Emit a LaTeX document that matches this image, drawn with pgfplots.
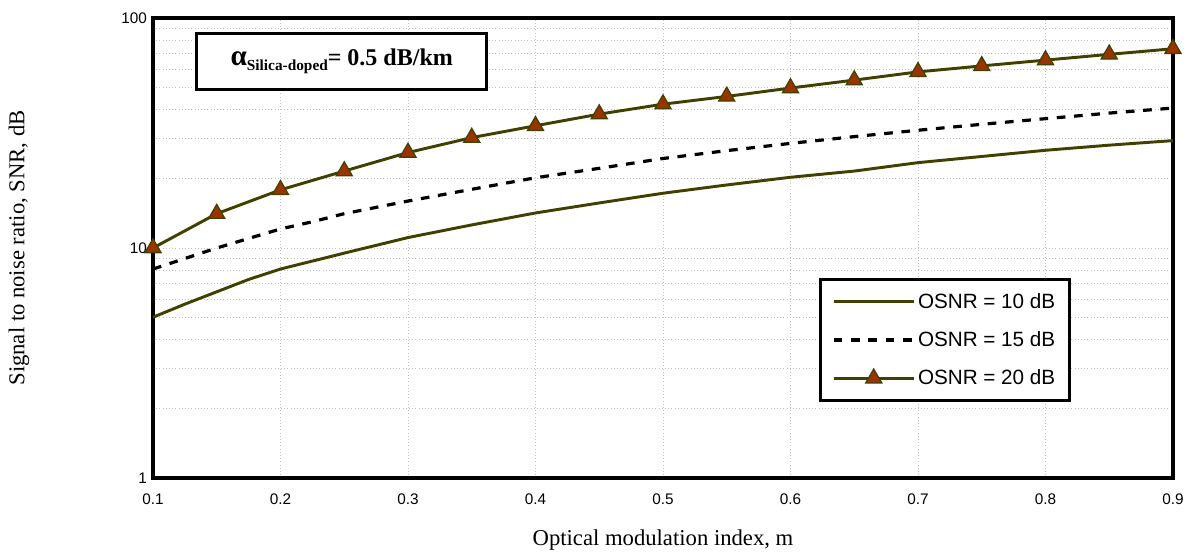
\documentclass[border=0pt]{standalone}
\usepackage{pgfplots}
\pgfplotsset{compat=1.18}
\usepackage{fontspec}
\setmainfont{Liberation Serif}
\newfontfamily\arial{Liberation Sans}
\definecolor{olive}{RGB}{64,64,0}
\definecolor{brick}{RGB}{153,51,0}
\begin{document}
\begin{tikzpicture}
\path[use as bounding box] (-114.75pt,-55.5pt) rectangle (775.5pt,358.5pt);
\begin{axis}[
  scale only axis, width=765pt, height=345pt,
  ymode=log, xmin=0.1, xmax=0.9, ymin=1, ymax=100,
  xtick={0.1,0.2,...,0.9},
  xticklabels={0.1,0.2,0.3,0.4,0.5,0.6,0.7,0.8,0.9},
  ytick={1,10,100}, yticklabels={1,10,100},
  minor ytick={2,3,4,5,6,7,8,9,20,30,40,50,60,70,80,90},
  grid=both,
  major grid style={gray!50, dotted, line width=0.7pt},
  minor grid style={gray!50, dotted, line width=0.7pt},
  major tick length=0pt, minor tick length=0pt,
  axis line style={line width=3.6pt, black},
  tick label style={font=\arial\fontsize{11.5}{13}\selectfont},
  xticklabel style={yshift=-8pt},
  yticklabel style={xshift=-1pt},
  /pgf/number format/assume math mode=true,
  xlabel={Optical modulation index, m},
  ylabel={Signal to noise ratio, SNR, dB},
  label style={font=\fontsize{17}{19}\selectfont},
  xlabel style={at={(axis description cs:0.5,-0.135)}, anchor=center},
  ylabel style={at={(axis description cs:-0.1315,0.5)}, anchor=center},
  clip=false,
  legend style={at={(0.7765,0.3)}, anchor=center, draw=black, line width=2.2pt,
    font=\arial\fontsize{15.5}{17}\selectfont, row sep=12pt,
    inner xsep=9pt, inner ysep=8pt,
    cells={anchor=west}},
  legend cell align=left,
  legend image code/.code={\draw[mark repeat=2,mark phase=2,#1] plot coordinates {(0pt,0pt) (30pt,0pt) (60pt,0pt)};},
]
\node[draw=black, line width=2.4pt, fill=white, minimum width=217.5pt, minimum height=42pt, inner sep=0pt]
  at (rel axis cs:0.185,0.905)
  {\fontsize{18}{20}\selectfont\bfseries{\fontsize{22}{22}\selectfont α}\raisebox{-0.45ex}{\fontsize{11.5}{12}\selectfont Silica-doped}= 0.5 dB/km};
\addplot[olive, line width=2.2pt] coordinates {
(0.1,5.0) (0.125,5.7) (0.15,6.45) (0.175,7.3) (0.2,8.1) (0.25,9.5) (0.3,11.1)
(0.35,12.6) (0.4,14.2) (0.45,15.7) (0.5,17.3) (0.55,18.8) (0.6,20.3) (0.65,21.6)
(0.7,23.5) (0.75,25.0) (0.8,26.6) (0.85,28.0) (0.9,29.3)};
\addlegendentry{OSNR = 10 dB}
\addplot[black, line width=2.4pt, dash pattern=on 6.5pt off 6.5pt] coordinates {
(0.1,8.1) (0.15,10.0) (0.2,12.1) (0.225,13.0) (0.25,14.1) (0.3,16.0) (0.35,18.0)
(0.4,20.2) (0.45,22.2) (0.5,24.5) (0.55,26.5) (0.6,28.5) (0.65,30.5) (0.7,32.5)
(0.75,34.5) (0.8,36.5) (0.85,38.6) (0.9,40.6)};
\addlegendentry{OSNR = 15 dB}
\addplot[olive, line width=2.2pt, mark=triangle*, mark size=7pt,
  mark options={solid, fill=brick, draw=olive, line width=0.9pt}] coordinates {
(0.1,10.0) (0.15,14.1) (0.2,17.9) (0.25,21.6) (0.3,26.0) (0.35,30.2) (0.4,34.0)
(0.45,38.2) (0.5,42.2) (0.55,45.6) (0.6,49.6) (0.65,53.7) (0.7,58.3) (0.75,61.9)
(0.8,65.6) (0.85,69.5) (0.9,73.5)};
\addlegendentry{OSNR = 20 dB}
\end{axis}
\end{tikzpicture}
\end{document}
